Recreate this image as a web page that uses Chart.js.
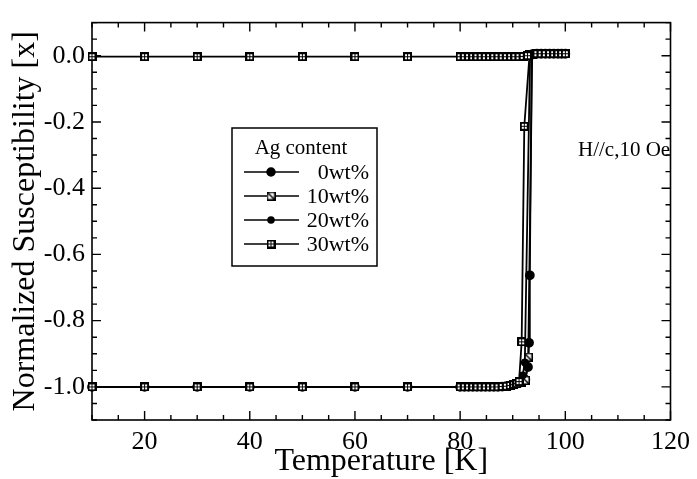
<!DOCTYPE html>
<html>
<head>
<meta charset="utf-8">
<script src="https://cdn.jsdelivr.net/npm/chart.js@4.4.1/dist/chart.umd.min.js"></script>
<style>
  html, body { margin: 0; padding: 0; background: #fff; }
  #wrap { width: 697px; height: 479px; }
</style>
</head>
<body>
<div id="wrap"><canvas id="chiChart" width="697" height="479"></canvas></div>
<script>
// ----- Axis labels / ticks -----
const xTickLabels = [20, 40, 60, 80, 100, 120];
const yTickLabels = [-1.0, -0.8, -0.6, -0.4, -0.2, 0.0];
const seriesNames = ["0wt%", "10wt%", "20wt%", "30wt%"];

// ----- Data -----
// shared part below Tc (all samples sit on -1)
const tempBase = [10, 20, 30, 40, 50, 60, 70, 80, 80.8, 81.6, 82.4, 83.2, 84, 84.8,
                  85.6, 86.4, 87.2, 88, 88.8, 89.5, 90.2, 90.8];
const chiBase  = [-1, -1, -1, -1, -1, -1, -1, -1, -1, -1, -1, -1, -1, -1,
                  -1, -1, -1, -0.999, -0.998, -0.996, -0.993, -0.99];

// transitions, one per sample
const temp0  = [91.6, 92.4, 92.9, 93.1, 93.25, 93.6];
const chi0   = [-0.986, -0.978, -0.94, -0.867, -0.663, 0.003];
const temp10 = [91.6, 92.4, 92.95, 93.7];
const chi10  = [-0.986, -0.98, -0.91, 0.003];
const temp20 = [91.4, 91.9, 92.3, 93.3];
const chi20  = [-0.986, -0.965, -0.926, 0.003];
const temp30 = [91.2, 91.7, 92.2, 93.2];
const chi30  = [-0.984, -0.864, -0.213, 0.003];

// normal state above Tc
const tempAbove = [93.8, 94.6, 95.4, 96.2, 97.0, 97.8, 98.6, 99.3, 100.0];
const chiAbove  = [0.005, 0.006, 0.006, 0.006, 0.006, 0.006, 0.006, 0.006, 0.006];

// upper (field cooled) branch
const tempFC = [10, 20, 30, 40, 50, 60, 70, 80, 80.8, 81.6, 82.4, 83.2, 84, 84.8,
                85.6, 86.4, 87.2, 88, 88.8, 89.6, 90.4, 91.2, 92, 92.8];
const chiFC  = [-0.003, -0.003, -0.003, -0.003, -0.003, -0.003, -0.003, -0.003, -0.003, -0.003,
                -0.003, -0.003, -0.003, -0.003, -0.003, -0.003, -0.003, -0.003, -0.003, -0.003,
                -0.003, -0.003, -0.002, 0.0];

// ----- Helpers -----
const toPts = (ts, cs) => ts.map((t, i) => ({ x: t, y: cs[i] }));
const branch = (ts, cs) => toPts([...tempBase, ...ts, ...tempAbove], [...chiBase, ...cs, ...chiAbove]);

function markerCanvas(kind) {
  const c = document.createElement("canvas");
  c.width = 9; c.height = 9;
  const g = c.getContext("2d");
  if (kind === "grid") {
    g.fillStyle = "#000";
    g.fillRect(0, 0, 9, 9);
    g.fillStyle = "#fff";
    [[2, 2], [5, 2], [2, 5], [5, 5]].forEach(([a, b]) => g.fillRect(a, b, 2, 2));
  } else {
    g.fillStyle = "#fff";
    g.fillRect(0, 0, 9, 9);
    g.strokeStyle = "#000";
    g.lineWidth = 1.5;
    g.strokeRect(0.75, 0.75, 7.5, 7.5);
    g.beginPath(); g.moveTo(1, 1); g.lineTo(8, 8); g.stroke();
  }
  return c;
}
const gridSq = markerCanvas("grid");
const slashSq = markerCanvas("slash");

const base = { borderColor: "#000", backgroundColor: "#000", borderWidth: 1.8,
               showLine: true, clip: false, tension: 0 };

// ----- Plugins -----
const SERIF = "'Liberation Serif', 'Times New Roman', serif";

const frameTicks = {
  id: "frameTicks",
  beforeDatasetsDraw(chart) {
    const { ctx, chartArea: a, scales: { x, y } } = chart;
    ctx.save();
    ctx.strokeStyle = "#000";
    ctx.lineWidth = 1.6;
    ctx.strokeRect(a.left, a.top, a.right - a.left, a.bottom - a.top);
    ctx.lineWidth = 1.4;
    ctx.beginPath();
    for (let v = 10; v <= 120; v += 5) {
      const px = x.getPixelForValue(v);
      const len = v % 20 === 0 ? 9 : 5;
      ctx.moveTo(px, a.bottom); ctx.lineTo(px, a.bottom - len);
      ctx.moveTo(px, a.top); ctx.lineTo(px, a.top + len);
    }
    for (let k = -22; k <= 2; k++) {
      const v = k * 0.05;
      const py = y.getPixelForValue(v);
      const len = k % 4 === 0 ? 9 : 5;
      ctx.moveTo(a.left, py); ctx.lineTo(a.left + len, py);
      ctx.moveTo(a.right, py); ctx.lineTo(a.right - len, py);
    }
    ctx.stroke();
    ctx.restore();
  }
};

const boxLegend = {
  id: "boxLegend",
  afterDraw(chart) {
    const { ctx } = chart;
    const L = 232, T = 128, R = 377, B = 266;
    ctx.save();
    ctx.fillStyle = "#fff";
    ctx.fillRect(L, T, R - L, B - T);
    ctx.strokeStyle = "#000";
    ctx.lineWidth = 1.5;
    ctx.strokeRect(L, T, R - L, B - T);
    ctx.fillStyle = "#000";
    ctx.font = "21px " + SERIF;
    ctx.textAlign = "center";
    ctx.textBaseline = "middle";
    ctx.fillText("Ag content", 301, 148);
    ctx.font = "22px " + SERIF;
    ctx.textAlign = "right";
    seriesNames.forEach((name, i) => {
      const ds = chart.data.datasets[i];
      const yy = 172 + i * 24;
      ctx.strokeStyle = "#000";
      ctx.lineWidth = 1.5;
      ctx.beginPath(); ctx.moveTo(244, yy); ctx.lineTo(299, yy); ctx.stroke();
      ctx.fillStyle = "#000";
      Chart.helpers.drawPoint(ctx, { pointStyle: ds.pointStyle, radius: ds.pointRadius,
                                     rotation: 0, borderWidth: 1 }, 271, yy);
      ctx.fillStyle = "#000";
      ctx.fillText(name, 369, yy + 1);
    });
    ctx.font = "21px " + SERIF;
    ctx.textAlign = "left";
    ctx.fillText("H//c,10 Oe", 578, 150);
    ctx.restore();
  }
};

// ----- Chart -----
// lower `order` is painted last, so the 30wt% squares end up on top like the original
const ctx = document.getElementById("chiChart").getContext("2d");
const chart = new Chart(ctx, {
  type: "scatter",
  data: {
    datasets: [
      { ...base, label: seriesNames[0], data: branch(temp0, chi0), order: 4,
        pointStyle: "circle", pointRadius: 4 },
      { ...base, label: seriesNames[1], data: branch(temp10, chi10), order: 3,
        pointStyle: slashSq, pointRadius: 4 },
      { ...base, label: seriesNames[2], data: branch(temp20, chi20), order: 2,
        pointStyle: "circle", pointRadius: 3 },
      { ...base, label: seriesNames[3], data: branch(temp30, chi30), order: 1,
        pointStyle: gridSq, pointRadius: 4 },
      { ...base, label: "30wt% FC", data: toPts(tempFC, chiFC), order: 0,
        pointStyle: gridSq, pointRadius: 4 }
    ]
  },
  options: {
    responsive: false,
    animation: false,
    layout: { padding: { top: 14, right: 23, left: 0, bottom: 0 } },
    plugins: { legend: { display: false }, tooltip: { enabled: false } },
    scales: {
      x: {
        type: "linear", min: 10, max: 120,
        afterBuildTicks: s => { s.ticks = xTickLabels.map(v => ({ value: v })); },
        afterFit: s => { s.height = 59; },
        grid: { display: false, drawTicks: false },
        border: { display: false },
        ticks: { color: "#000", padding: 7, maxRotation: 0,
                 font: { family: SERIF, size: 26 } },
        title: { display: true, text: "Temperature [K]", color: "#000",
                 padding: { top: 0, bottom: -2 }, font: { family: SERIF, size: 32 } }
      },
      y: {
        type: "linear", min: -1.1, max: 0.1,
        afterBuildTicks: s => { s.ticks = yTickLabels.map(v => ({ value: v })); },
        afterFit: s => { s.width = 92; },
        grid: { display: false, drawTicks: false },
        border: { display: false },
        ticks: { color: "#000", padding: 7, callback: v => v.toFixed(1),
                 font: { family: SERIF, size: 26 } },
        title: { display: true, text: "Normalized Susceptibility [x]", color: "#000",
                 padding: { top: 6, bottom: 0 }, font: { family: SERIF, size: 32 } }
      }
    }
  },
  plugins: [frameTicks, boxLegend]
});
</script>
</body>
</html>
